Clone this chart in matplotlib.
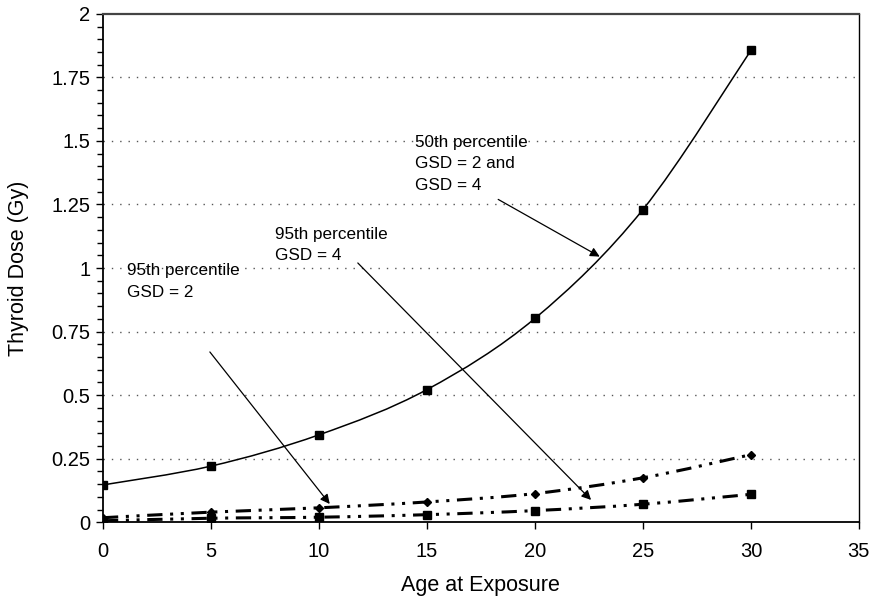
import numpy as np
import matplotlib.pyplot as plt
from matplotlib.path import Path
from matplotlib.patches import PathPatch
from matplotlib.ticker import MultipleLocator, FuncFormatter

plt.rcParams['font.family'] = ['Liberation Sans', 'DejaVu Sans']

ages = [0, 5, 10, 15, 20, 25, 30]
dose_p50 = [0.147, 0.221, 0.344, 0.522, 0.802, 1.23, 1.856]
dose_p95_gsd4 = [0.018, 0.040, 0.057, 0.080, 0.113, 0.175, 0.266]
dose_p95_gsd2 = [0.006, 0.016, 0.020, 0.030, 0.046, 0.071, 0.110]


def smooth_path(xs, ys):
    # Catmull-Rom style bezier through the points, like a smoothed spreadsheet line
    pts = np.column_stack([xs, ys]).astype(float)
    n = len(pts)
    verts = [pts[0]]
    codes = [Path.MOVETO]
    for i in range(n - 1):
        p0 = pts[max(i - 1, 0)]
        p1 = pts[i]
        p2 = pts[i + 1]
        p3 = pts[min(i + 2, n - 1)]
        c1 = p1 + (p2 - p0) / 6.0
        c2 = p2 - (p3 - p1) / 6.0
        verts += [c1, c2, p2]
        codes += [Path.CURVE4] * 3
    return Path(verts, codes)


fig = plt.figure(figsize=(8.8, 6), dpi=100)
ax = fig.add_axes([0.117, 0.1295, 0.859, 0.8475])

dashdotdot = (0, (5, 2.5, 1, 2.5, 1, 2.5))

ax.add_patch(PathPatch(smooth_path(ages, dose_p50), fill=False,
                       lw=1.1, ec='black', zorder=3))
ax.plot(ages, dose_p50, 's', ms=6, color='black', zorder=4)

ax.add_patch(PathPatch(smooth_path(ages, dose_p95_gsd4), fill=False,
                       lw=2.2, ec='black', zorder=3, ls=dashdotdot))
ax.plot(ages, dose_p95_gsd4, 'D', ms=4, color='black', zorder=4)

ax.add_patch(PathPatch(smooth_path(ages, dose_p95_gsd2), fill=False,
                       lw=2.2, ec='black', zorder=3, ls=dashdotdot))
ax.plot(ages, dose_p95_gsd2, 's', ms=6, color='black', zorder=4)

ax.set_xlim(0, 35)
ax.set_ylim(0, 2)
ax.xaxis.set_major_locator(MultipleLocator(5))
ax.yaxis.set_major_locator(MultipleLocator(0.25))
ax.yaxis.set_minor_locator(MultipleLocator(0.05))
ax.yaxis.set_major_formatter(FuncFormatter(lambda v, p: '%g' % v))
ax.tick_params(axis='both', which='major', direction='out', length=5,
               width=1, labelsize=14.5)
ax.tick_params(axis='x', which='major', pad=9)
ax.tick_params(axis='y', which='major', pad=4)
ax.tick_params(axis='y', which='minor', direction='out', length=4, width=1)
ax.tick_params(axis='x', which='minor', bottom=False)

for v in np.arange(0.25, 2.0, 0.25):
    ax.axhline(v, color='#555555', lw=1, ls=(0, (1, 5)), zorder=1)

for side in ['left', 'bottom']:
    ax.spines[side].set_linewidth(1.3)
ax.spines['top'].set_linewidth(1.6)
ax.spines['top'].set_color('#444444')
ax.spines['right'].set_linewidth(1.0)

ax.set_xlabel('Age at Exposure', fontsize=15.5, labelpad=10)
ax.set_ylabel('Thyroid Dose (Gy)', fontsize=15.5, labelpad=16)

arrow = dict(arrowstyle='-|>', color='black', lw=0.9, mutation_scale=14,
             shrinkA=0, shrinkB=0)
txt = dict(fontsize=12.3, ha='left', va='top', linespacing=1.55)

ax.text(14.45, 1.525, '50th percentile\nGSD = 2 and\nGSD = 4', **txt)
ax.annotate('', xy=(23.0, 1.045), xytext=(18.3, 1.27), arrowprops=arrow)

ax.text(7.95, 1.163, '95th percentile\nGSD = 4', **txt)
ax.annotate('', xy=(22.6, 0.088), xytext=(11.8, 1.02), arrowprops=arrow)

ax.text(1.1, 1.018, '95th percentile\nGSD = 2', **txt)
ax.annotate('', xy=(10.5, 0.072), xytext=(4.95, 0.67), arrowprops=arrow)

fig.savefig('out.png', dpi=100)
